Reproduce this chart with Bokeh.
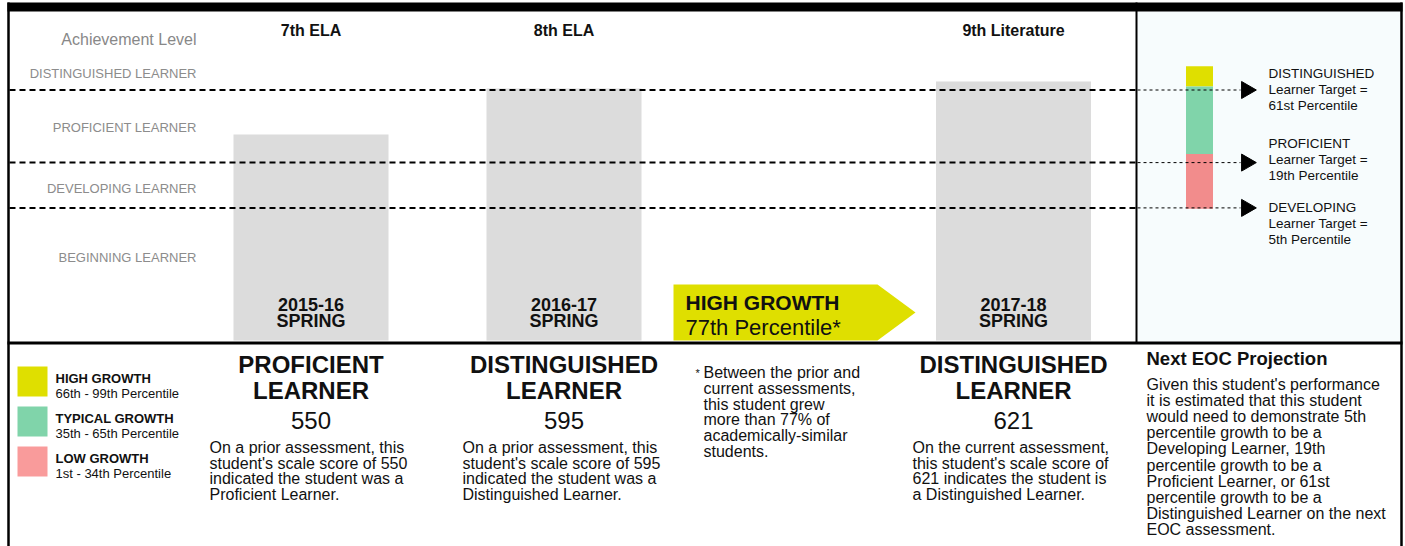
import math
from bokeh.plotting import figure
from bokeh.models import Range1d
from bokeh.core.properties import value
from bokeh.embed import file_html
from bokeh.resources import INLINE

# ---------------- data ----------------
subjects = ["7th ELA", "8th ELA", "9th Literature"]
terms = ["2015-16", "2016-17", "2017-18"]
seasons = ["SPRING", "SPRING", "SPRING"]
level_names = ["PROFICIENT", "DISTINGUISHED", "DISTINGUISHED"]
scale_scores = [550, 595, 621]
bar_heights = [68.7, 84.0, 86.3]          # position on the achievement-level scale (0 = base)

level_labels = ["DISTINGUISHED LEARNER", "PROFICIENT LEARNER", "DEVELOPING LEARNER", "BEGINNING LEARNER"]
level_label_pos = [89.0, 71.0, 50.7, 27.7]

cut_names = ["DISTINGUISHED", "PROFICIENT", "DEVELOPING"]
cut_levels = [83.5, 59.3, 44.2]
target_percentiles = ["61st", "19th", "5th"]

growth_bands = ["HIGH GROWTH", "TYPICAL GROWTH", "LOW GROWTH"]
growth_ranges = ["66th - 99th Percentile", "35th - 65th Percentile", "1st - 34th Percentile"]
growth_colors = ["#dfdf00", "#80d4aa", "#f99b9b"]
proj_colors = ["#dfdf00", "#80d4aa", "#f28c8c"]
proj_bottom = [84.7, 62.2, 43.9]
proj_top = [91.4, 84.7, 62.2]

growth_percentile = 77
growth_label = "HIGH GROWTH"

prior_desc = [
    ["On a prior assessment, this", f"student's scale score of {scale_scores[0]}",
     "indicated the student was a", "Proficient Learner."],
    ["On a prior assessment, this", f"student's scale score of {scale_scores[1]}",
     "indicated the student was a", "Distinguished Learner."],
    ["On the current assessment,", "this student's scale score of",
     f"{scale_scores[2]} indicates the student is", "a Distinguished Learner."],
]
note_lines = ["Between the prior and", "current assessments,", "this student grew",
              f"more than {growth_percentile}% of", "academically-similar", "students."]
eoc_lines = ["Given this student's performance", "it is estimated that this student",
             "would need to demonstrate 5th", "percentile growth to be a",
             "Developing Learner, 19th", "percentile growth to be a",
             "Proficient Learner, or 61st", "percentile growth to be a",
             "Distinguished Learner on the next", "EOC assessment."]

# ---------------- layout ----------------
FONT = value("Liberation Sans")
W, H = 1405, 546
col_x = [310.5, 563.5, 1013.0]
bar_w = 155
base_py = 340.0        # pixel row of level 0
px_per_lvl = 3.0

p = figure(width=W, height=H, x_range=Range1d(0, W), y_range=Range1d(H, 0),
           output_backend="svg", toolbar_location=None, min_border=0,
           x_axis_type=None, y_axis_type=None, outline_line_color=None,
           background_fill_color="white", border_fill_color="white")
p.grid.visible = False
p.extra_y_ranges = {"lvl": Range1d(start=(base_py - H) / px_per_lvl,
                                   end=base_py / px_per_lvl)}

# right panel background
p.quad(left=1137, right=1400, top=11, bottom=341, fill_color="#f7fcfd", line_color=None)

# gray bars
p.vbar(x=col_x, width=bar_w, bottom=0, top=bar_heights, y_range_name="lvl",
       fill_color="#dcdcdc", line_color=None)

# projection stack
p.vbar(x=[1199] * 3, width=27, bottom=proj_bottom, top=proj_top, y_range_name="lvl",
       fill_color=proj_colors, line_color=None)

# cut lines
p.segment(x0=[9] * 3, x1=[1135] * 3, y0=cut_levels, y1=cut_levels, y_range_name="lvl",
          line_color="black", line_width=2, line_dash="6 4")
p.segment(x0=[1137] * 3, x1=[1240] * 3, y0=cut_levels, y1=cut_levels, y_range_name="lvl",
          line_color="black", line_width=1, line_dash="3 3")
p.scatter(x=[1246] * 3, y=cut_levels, y_range_name="lvl", marker="triangle", size=17,
          angle=-math.pi / 2, fill_color="black", line_color="black")

# growth arrow
ax0, ax1, ax2, at, ab = 673, 877, 915, 284, 340
p.patch(x=[ax0, ax1, ax2, ax1, ax0], y=[at, at, (at + ab) / 2, ab, ab],
        fill_color="#dfdf00", line_color=None)
p.text(x=[685], y=[302], text=[growth_label], text_font=FONT, text_font_size="21px",
       text_font_style="bold", text_baseline="middle", text_color="#111")
p.text(x=[685], y=[327], text=[f"{growth_percentile}th Percentile*"], text_font=FONT,
       text_font_size="22px", text_baseline="middle", text_color="#111")

# frame lines
p.quad(left=7, right=1402, top=2, bottom=11, fill_color="black", line_color=None)
p.segment(x0=[8, 1136, 7, 1401], x1=[8, 1136, 1402, 1401],
          y0=[2, 2, 342.5, 2], y1=[546, 342, 342.5, 546],
          line_color="black", line_width=[2.5, 2, 3, 2.5])

# left labels
p.text(x=[196], y=[39], text=["Achievement Level"], text_font=FONT, text_font_size="16px",
       text_align="right", text_baseline="middle", text_color="#888888")
p.text(x=[196] * 4, y=level_label_pos, y_range_name="lvl", text=level_labels, text_font=FONT,
       text_font_size="13px", text_align="right", text_baseline="middle", text_color="#8c8c8c")

# column titles and bar labels
p.text(x=col_x, y=[30] * 3, text=subjects, text_font=FONT, text_font_size="16px",
       text_font_style="bold", text_align="center", text_baseline="middle", text_color="#111")
p.text(x=col_x, y=[304] * 3, text=terms, text_font=FONT, text_font_size="18px",
       text_font_style="bold", text_align="center", text_baseline="middle", text_color="#111")
p.text(x=col_x, y=[320] * 3, text=seasons, text_font=FONT, text_font_size="18px",
       text_font_style="bold", text_align="center", text_baseline="middle", text_color="#111")

# right panel target labels
tx, ty = 1268, [73, 143, 207]
rx, ry, rt = [], [], []
for name, pct, y in zip(cut_names, target_percentiles, ty):
    for i, s in enumerate([name, "Learner Target =", f"{pct} Percentile"]):
        rx.append(tx); ry.append(y + 16 * i); rt.append(s)
p.text(x=rx, y=ry, text=rt, text_font=FONT, text_font_size="13.5px", text_baseline="middle",
       text_color="#111")

# legend
lg_top = [366, 406, 446]
p.quad(left=[17] * 3, right=[47] * 3, top=lg_top, bottom=[t + 30 for t in lg_top],
       fill_color=growth_colors, line_color=None)
p.text(x=[55] * 3, y=[t + 11.5 for t in lg_top], text=growth_bands, text_font=FONT,
       text_font_size="13px", text_font_style="bold", text_baseline="middle", text_color="#111")
p.text(x=[55] * 3, y=[t + 27 for t in lg_top], text=growth_ranges, text_font=FONT,
       text_font_size="13px", text_baseline="middle", text_color="#111")

# bottom columns
p.text(x=col_x, y=[364] * 3, text=level_names, text_font=FONT, text_font_size="24px",
       text_font_style="bold", text_align="center", text_baseline="middle", text_color="#111")
p.text(x=col_x, y=[390] * 3, text=["LEARNER"] * 3, text_font=FONT, text_font_size="24px",
       text_font_style="bold", text_align="center", text_baseline="middle", text_color="#111")
p.text(x=col_x, y=[420] * 3, text=[str(s) for s in scale_scores], text_font=FONT,
       text_font_size="24px", text_align="center", text_baseline="middle", text_color="#111")
desc_x = [209, 462, 912]
dx, dy, dt = [], [], []
for x, lines in zip(desc_x, prior_desc):
    for i, s in enumerate(lines):
        dx.append(x); dy.append(447 + 15.7 * i); dt.append(s)
p.text(x=dx, y=dy, text=dt, text_font=FONT, text_font_size="16px", text_baseline="middle",
       text_color="#111")

# note
p.text(x=[695], y=[372], text=["*"], text_font=FONT, text_font_size="11px",
       text_baseline="middle", text_color="#111")
p.text(x=[703] * len(note_lines), y=[372 + 15.75 * i for i in range(len(note_lines))],
       text=note_lines, text_font=FONT, text_font_size="16px", text_baseline="middle",
       text_color="#111")

# EOC projection
p.text(x=[1146], y=[358], text=["Next EOC Projection"], text_font=FONT, text_font_size="18.5px",
       text_font_style="bold", text_baseline="middle", text_color="#111")
p.text(x=[1146] * len(eoc_lines), y=[384 + 16.1 * i for i in range(len(eoc_lines))],
       text=eoc_lines, text_font=FONT, text_font_size="16px", text_baseline="middle",
       text_color="#111")

open("out.html", "w").write(file_html(p, INLINE))
